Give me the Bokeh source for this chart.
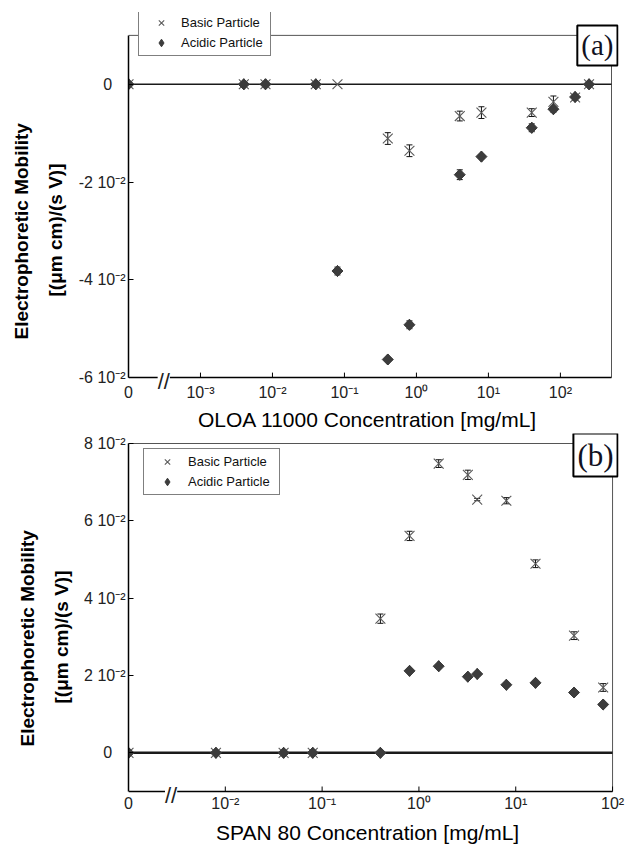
import math
from bokeh.plotting import figure
from bokeh.models import (Range1d, FixedTicker, ColumnDataSource, Whisker, TeeHead,
                          Label, Legend, LegendItem, Title)
from bokeh.layouts import column
from bokeh.embed import file_html
from bokeh.resources import INLINE

# ---------------- Panel (a): OLOA 11000 ----------------
conc_a = [0, 0.004, 0.008, 0.04, 0.08, 0.4, 0.8, 4, 8, 40, 80, 160, 250]
basic_a = [0, 0, 0, 0, 0, -0.0111, -0.0136, -0.0065, -0.0058, -0.0058, -0.0036, -0.0027, 0]
basic_a_err = [0, 0, 0, 0, 0, 0.0012, 0.0012, 0.0010, 0.0012, 0.0008, 0.0012, 0.0005, 0]
acidic_a = [0, 0, 0, 0, -0.0382, -0.0563, -0.0492, -0.0185, -0.0148, -0.0089, -0.0051, -0.0026, 0]
acidic_a_err = [0, 0, 0, 0, 0.0008, 0.0003, 0.0008, 0.0010, 0.0003, 0.0008, 0.0006, 0.0003, 0]
xticks_a = [1e-4, 1e-3, 1e-2, 1e-1, 1, 10, 100]
xlabels_a = ["0", "10⁻³", "10⁻²", "10⁻¹", "10⁰", "10¹", "10²"]
yticks_a = [-0.06, -0.04, -0.02, 0]
ylabels_a = ["-6 10⁻²", "-4 10⁻²", "-2 10⁻²", "0\u00a0\u00a0\u00a0"]

# ---------------- Panel (b): SPAN 80 ----------------
conc_b = [0, 0.008, 0.04, 0.08, 0.4, 0.8, 1.6, 3.2, 4, 8, 16, 40, 80]
basic_b = [0, 0, 0, 0, 0.0347, 0.0561, 0.0748, 0.0719, 0.0655, 0.0652, 0.0489, 0.0303, 0.0169]
basic_b_err = [0, 0, 0, 0, 0.0012, 0.0012, 0.0010, 0.0012, 0.0003, 0.0008, 0.0010, 0.0010, 0.0010]
acidic_b = [0, 0, 0, 0, 0, 0.0212, 0.0224, 0.0197, 0.0204, 0.0176, 0.0181, 0.0156, 0.0125]
acidic_b_err = [0, 0, 0, 0, 0, 0.0004, 0.0004, 0.0004, 0.0004, 0.0004, 0.0004, 0.0004, 0.0004]
xticks_b = [1e-3, 1e-2, 1e-1, 1, 10, 100]
xlabels_b = ["0", "10⁻²", "10⁻¹", "10⁰", "10¹", "10²"]
yticks_b = [0, 0.02, 0.04, 0.06, 0.08]
ylabels_b = ["0\u00a0\u00a0\u00a0", "2 10⁻²", "4 10⁻²", "6 10⁻²", "8 10⁻²"]

FONT = "Liberation Sans"
YLABEL1 = "Electrophoretic Mobility"
YLABEL2 = "[(μm cm)/(s V)]"
XLABEL_A = "OLOA 11000 Concentration [mg/mL]"
XLABEL_B = "SPAN 80 Concentration [mg/mL]"


def build(conc, basic, basic_err, acidic, acidic_err, xticks, xlabels, yticks, ylabels,
          xvis, yvis, xlabel, tag, brk_log, zero_w, legend_loc, legend_dims, tag_off,
          tag_size, height, vis_w, vis_h, frame, pads, ylab_offs, xlab_standoffs):
    fl, fw, ft, fh = frame          # frame left, width, top, height (canvas px)
    pad_top, pad_bot = pads         # extra frame pixels above / below the drawn box
    lx0, lx1 = math.log10(xvis[0]), math.log10(xvis[1])
    x_end = 10 ** (lx0 + (lx1 - lx0) * fw / vis_w)
    upp = (yvis[1] - yvis[0]) / vis_h
    y_lo = yvis[0] - pad_bot * upp
    y_hi = yvis[1] + pad_top * upp

    p = figure(width=629, height=height, x_axis_type="log",
               x_range=Range1d(xvis[0], x_end), y_range=Range1d(y_lo, y_hi),
               output_backend="svg", toolbar_location=None,
               min_border_left=fl, min_border_right=629 - fl - fw,
               min_border_top=ft, min_border_bottom=height - ft - fh)
    p.xgrid.visible = False
    p.ygrid.visible = False
    p.outline_line_color = None
    p.background_fill_color = "white"
    p.border_fill_color = "white"

    zero_x = xticks[0]
    px = [zero_x if c == 0 else c for c in conc]

    # box: top and right edges (grey), bottom axis line with its tick marks, zero line
    p.line([xvis[0], xvis[1], xvis[1]], [yvis[1], yvis[1], yvis[0]],
           line_color="#555555", line_width=1)
    p.line([xvis[0], xvis[1]], [yvis[0], yvis[0]], line_color="black", line_width=1.5)
    tk = xticks[1:]
    p.segment(x0=tk, y0=[yvis[0]] * len(tk), x1=tk, y1=[yvis[0] + 5 * upp] * len(tk),
              line_color="black", line_width=1)
    p.line([xvis[0], xvis[1]], [0, 0], line_color="#1a1a1a", line_width=zero_w)

    rb = p.scatter(px, basic, marker="x", size=14, line_color="#5a5a5a", line_width=1.1)
    # diamond marker (used for the legend key) sits inside the rotated square drawn over it
    rd = p.scatter(px, acidic, marker="diamond", size=11, fill_color="#3c3c3c",
                   line_color="#3c3c3c")
    p.scatter(px, acidic, marker="square", angle=math.pi / 4, size=7.8,
              fill_color="#3c3c3c", line_color="#3c3c3c")

    for vals, errs in ((basic, basic_err), (acidic, acidic_err)):
        xs = [x for x, e in zip(px, errs) if e > 0]
        ys = [v for v, e in zip(vals, errs) if e > 0]
        es = [e for e in errs if e > 0]
        src = ColumnDataSource(dict(x=xs, lo=[y - e for y, e in zip(ys, es)],
                                    hi=[y + e for y, e in zip(ys, es)]))
        p.add_layout(Whisker(base="x", lower="lo", upper="hi", source=src, dimension="height",
                             line_color="#111111", line_width=1,
                             upper_head=TeeHead(size=6, line_color="#111111", line_width=1),
                             lower_head=TeeHead(size=6, line_color="#111111", line_width=1)))

    # axes
    xa, ya = p.xaxis[0], p.yaxis[0]
    xa.ticker = FixedTicker(ticks=xticks, minor_ticks=[])
    xa.major_label_overrides = dict(zip(xticks, xlabels))
    xa.bounds = (xvis[0], xvis[1])
    xa.axis_line_color = None
    xa.major_tick_line_color = None
    ya.ticker = FixedTicker(ticks=yticks, minor_ticks=[])
    ya.major_label_overrides = dict(zip(yticks, ylabels))
    ya.bounds = (yvis[0], yvis[1])
    ya.axis_line_color = "black"
    ya.axis_line_width = 1.5
    ya.major_tick_line_color = "black"
    for ax in (xa, ya):
        ax.major_tick_in = 5
        ax.major_tick_out = 0
        ax.minor_tick_line_color = None
        ax.major_label_text_font = FONT
        ax.major_label_text_font_size = "16px"
        ax.major_label_text_color = "#222222"
    ya.major_label_standoff = 3
    xa.major_label_standoff = xlab_standoffs[0]
    # two trailing no-break spaces nudge the centred title slightly left, as in the original
    xa.axis_label = xlabel + "\u00a0\u00a0"
    xa.axis_label_text_font = FONT
    xa.axis_label_text_color = "black"
    xa.axis_label_text_font_size = "21px"
    xa.axis_label_text_font_style = "normal"
    xa.axis_label_standoff = xlab_standoffs[1]

    # y-axis title, two lines (second line nearest to the axis)
    p.add_layout(Title(text=YLABEL2, text_font=FONT, text_font_size="19px",
                       text_font_style="bold", text_color="black", align="left",
                       offset=ylab_offs[1], standoff=20), "left")
    p.add_layout(Title(text=YLABEL1, text_font=FONT, text_font_size="19px",
                       text_font_style="bold", text_color="black", align="left",
                       offset=ylab_offs[0], standoff=2), "left")

    # axis break mark
    p.add_layout(Label(x=10 ** brk_log, y=yvis[0], text="//", text_font=FONT,
                       text_font_size="22px", text_align="center", text_baseline="middle",
                       y_offset=-4, text_color="#222222", background_fill_color="white"))

    # legend
    gw, lw = legend_dims
    legend = Legend(items=[LegendItem(label="Basic Particle", renderers=[rb]),
                           LegendItem(label="Acidic Particle", renderers=[rd])],
                    location=legend_loc, orientation="vertical",
                    border_line_color="black", border_line_width=1.5,
                    background_fill_color="white", background_fill_alpha=1.0,
                    padding=3, spacing=1, margin=0,
                    glyph_width=gw, glyph_height=19, label_height=19, label_width=lw,
                    label_standoff=1, label_text_font=FONT, label_text_font_size="13px",
                    label_text_color="#111111")
    p.add_layout(legend)

    # panel tag
    p.add_layout(Label(x=xvis[1], y=yvis[1], text=tag, text_font="Liberation Serif",
                       text_font_size=tag_size, text_align="right", text_baseline="top",
                       x_offset=tag_off[0], y_offset=tag_off[1], text_color="#111122",
                       border_line_color="black", border_line_width=2,
                       background_fill_color="white", padding=4))
    return p


# drawn box (a): x 128..611, y 35..379 ; frame 128..618, 12..395 ; figure 0..433
pa = build(conc_a, basic_a, basic_a_err, acidic_a, acidic_a_err, xticks_a, xlabels_a,
           yticks_a, ylabels_a, (1e-4, 10 ** 2.71), (-0.06, 0.01),
           XLABEL_A, "(a)", -3.51, 1.5,
           (10, 337), (38, 86), (6, 10), "29px", 433, 483, 344,
           (128, 490, 12, 383), (23, 16), (54, 97), (-10, 4))
# drawn box (b): x 128..616, y 443..791 ; frame 128..622, 433..808 ; figure 433..846
pb = build(conc_b, basic_b, basic_b_err, acidic_b, acidic_b_err, xticks_b, xlabels_b,
           yticks_b, ylabels_b, (1e-3, 1e2), (-0.01, 0.08),
           XLABEL_B, "(b)", -2.56, 2.5,
           (15, 313), (40, 88), (5, 10), "31px", 413, 488, 348,
           (128, 494, 0, 375), (10, 17), (62, 105), (-14, 6))

layout = column(pa, pb, spacing=0)
open("out.html", "w").write(file_html(layout, INLINE))
